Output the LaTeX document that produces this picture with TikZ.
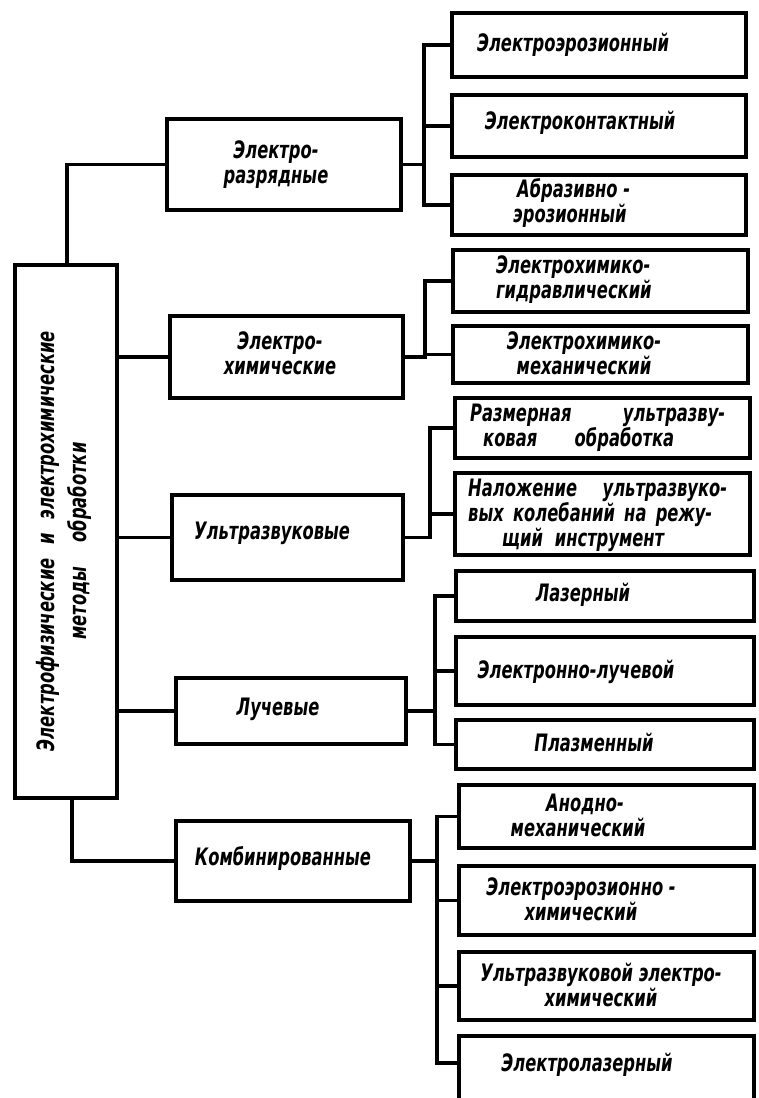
\documentclass[tikz,border=0pt]{standalone}
\usepackage{fontspec}
\setmainfont{DejaVu Sans}[FakeStretch=0.68]
\usetikzlibrary{calc}
\tikzset{
  bx/.style={draw, line width=3.4pt, inner sep=0pt},
  lbl/.style={font=\fontsize{24}{25}\selectfont\bfseries\itshape, align=center, inner sep=0pt},
  ln/.style={line width=3.4pt}
}
\begin{document}
\begin{tikzpicture}[x=1pt,y=-1pt]
\useasboundingbox[fill=white] (0,0) rectangle (758,1098);
% root
\node[bx, minimum width=102pt, minimum height=533pt] (root) at (66,531.5) {};
% level 2
\node[bx, minimum width=234pt, minimum height=91pt] (k1) at (284,164.5) {};
\node[bx, minimum width=233pt, minimum height=82pt] (k2) at (286.5,357) {};
\node[bx, minimum width=231pt, minimum height=85pt] (k3) at (287.5,537.5) {};
\node[bx, minimum width=230pt, minimum height=66pt] (k4) at (291,711) {};
\node[bx, minimum width=234pt, minimum height=80pt] (k5) at (293,861) {};
% level 3
\node[bx, minimum width=294pt, minimum height=64pt] (a1) at (599,45) {};
\node[bx, minimum width=294pt, minimum height=62pt] (a2) at (599,126) {};
\node[bx, minimum width=294pt, minimum height=60pt] (a3) at (599,205) {};
\node[bx, minimum width=295pt, minimum height=62pt] (b1) at (600.5,281) {};
\node[bx, minimum width=295pt, minimum height=57pt] (b2) at (600.5,354.5) {};
\node[bx, minimum width=295pt, minimum height=60pt] (c1) at (602.5,428) {};
\node[bx, minimum width=295pt, minimum height=82pt] (c2) at (602.5,514) {};
\node[bx, minimum width=298pt, minimum height=50pt] (d1) at (605,596) {};
\node[bx, minimum width=298pt, minimum height=68pt] (d2) at (605,671) {};
\node[bx, minimum width=298pt, minimum height=49pt] (d3) at (605,744.5) {};
\node[bx, minimum width=295pt, minimum height=63pt] (e1) at (606.5,816.5) {};
\node[bx, minimum width=295pt, minimum height=69pt] (e2) at (606.5,900.5) {};
\node[bx, minimum width=295pt, minimum height=68pt] (e3) at (606.5,986) {};
\node[bx, minimum width=295pt, minimum height=76pt] (e4) at (606.5,1074) {};
% texts
\node[lbl, rotate=90, font=\fontsize{24}{32}\selectfont\bfseries\itshape] (troot) at (64,541)
  {\makebox[420pt][s]{Электрофизические и электрохимические}\\\makebox[197pt][s]{методы обработки}};
\node[lbl] (tk1) at (276,165) {Электро-\\разрядные};
\node[lbl] (tk2) at (280,353) {Электро-\\химические};
\node[lbl] (tk3) at (272,533) {Ультразвуковые};
\node[lbl] (tk4) at (278,709) {Лучевые};
\node[lbl] (tk5) at (283,858) {Комбинированные};
\node[lbl] (ta1) at (573,45) {Электроэрозионный};
\node[lbl] (ta2) at (580,123) {Электроконтактный};
\node[lbl, align=left, anchor=west] (ta3) at (513,203) {\hspace*{4pt}Абразивно -\\эрозионный};
\node[lbl, align=left, anchor=west] (tb1) at (496,280) {Электрохимико-\\гидравлический};
\node[lbl] (tb2) at (584,353) {Электрохимико-\\механический};
\node[lbl, align=left, anchor=west] (tc1) at (470,428)
  {\makebox[255pt][s]{Размерная ультразву-}\\\hspace*{13pt}\makebox[191pt][s]{ковая обработка}};
\node[lbl, align=left, anchor=west, font=\fontsize{24}{23}\selectfont\bfseries\itshape] (tc2) at (468,515)
  {\makebox[259pt][s]{Наложение ультразвуко-}\\\makebox[244pt][s]{вых колебаний на режу-}\\\hspace*{34pt}\makebox[162pt][s]{щий инструмент}};
\node[lbl] (td1) at (583,595) {Лазерный};
\node[lbl] (td2) at (576,672) {Электронно-лучевой};
\node[lbl] (td3) at (594,742) {Плазменный};
\node[lbl] (te1) at (578,815) {\hspace*{14pt}Анодно-\\механический};
\node[lbl] (te2) at (581,899) {Электроэрозионно -\\химический};
\node[lbl] (te3) at (601,985) {Ультразвуковой электро-\\химический};
\node[lbl] (te4) at (587,1065) {Электролазерный};
% root connectors
\draw[ln] ([xshift=1pt]root.north) |- (k1.west);
\draw[ln] ([xshift=6pt]root.south) |- (k5.west);
\draw[ln] (root.east |- k2.west) -- (k2.west);
\draw[ln] (root.east |- k3.west) -- (k3.west);
\draw[ln] (root.east |- k4.west) -- (k4.west);
% bus A
\coordinate (bA) at (424,0);
\draw[ln] (a1.west) -| (bA |- a3.west) -- (a3.west);
\draw[ln] (a2.west) -- (bA |- a2.west);
\draw[ln] (k1.east) -- (bA |- k1.east);
% bus B
\coordinate (bB) at (425,0);
\draw[ln] (b1.west) -| (bB |- k2.east) -- (k2.east);
\draw[ln] (b2.west) -- (bB |- b2.west);
% bus C
\coordinate (bC) at (430,0);
\draw[ln] (c1.west) -| (bC |- k3.east) -- (k3.east);
\draw[ln] (c2.west) -- (bC |- c2.west);
% bus D
\coordinate (bD) at (435,0);
\draw[ln] (d1.west) -| (bD |- d3.west) -- (d3.west);
\draw[ln] (d2.west) -- (bD |- d2.west);
\draw[ln] (k4.east) -- (bD |- k4.east);
% bus E
\coordinate (bE) at (437,0);
\coordinate (e4c) at ([yshift=11pt]e4.west);
\draw[ln] (e1.west) -| (bE |- e4c) -- (e4c);
\draw[ln] (e2.west) -- (bE |- e2.west);
\draw[ln] (e3.west) -- (bE |- e3.west);
\draw[ln] (k5.east) -- (bE |- k5.east);
\end{tikzpicture}
\end{document}
